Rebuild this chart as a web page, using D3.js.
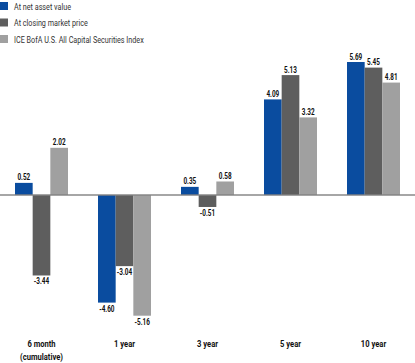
<!DOCTYPE html>
<html>
<head>
<meta charset="utf-8">
<script src="https://cdn.jsdelivr.net/npm/d3@7"></script>
<style>
  body { margin: 0; background: #fff; }
  svg { display: block; font-family: Roboto, "Liberation Sans", sans-serif; }
</style>
</head>
<body>
<svg id="chart" width="415" height="363"></svg>
<script>
const categories = ['6 month\n(cumulative)', '1 year', '3 year', '5 year', '10 year'];
const seriesNames = ['At net asset value', 'At closing market price', 'ICE BofA U.S. All Capital Securities Index'];
const nav = [0.52, -4.60, 0.35, 4.09, 5.69];
const market = [-3.44, -3.04, -0.51, 5.13, 5.45];
const index = [2.02, -5.16, 0.58, 3.32, 4.81];
const colors = ['#0a4c9f', '#5e5e5e', '#a0a0a0'];

const width = 415;
const svg = d3.select('#chart');

// Echelles
const x0 = d3.scaleBand().domain(categories).range([0, width]);
const groupW = 53;
const x1 = d3.scaleBand().domain(seriesNames).range([0, groupW]);
const y = d3.scaleLinear().domain([-5.16, 5.69]).range([315.7, 62]);

const series = [nav, market, index];
const data = [];
categories.forEach((c, i) => {
  seriesNames.forEach((s, j) => {
    data.push({ cat: c, name: s, value: series[j][i], color: colors[j] });
  });
});

const bx = d => x0(d.cat) + (x0.bandwidth() - groupW) / 2 + x1(d.name);

// texte "condensé" : on écrase horizontalement
const narrow = 0.8;

// Barres
svg.append('g').selectAll('rect')
  .data(data)
  .enter()
  .append('rect')
  .attr('x', d => bx(d))
  .attr('y', d => y(Math.max(0, d.value)))
  .attr('width', x1.bandwidth())
  .attr('height', d => Math.abs(y(d.value) - y(0)))
  .attr('fill', d => d.color);

// Ligne zero
svg.append('line')
  .attr('x1', 0).attr('x2', width)
  .attr('y1', y(0)).attr('y2', y(0))
  .attr('stroke', '#808080')
  .attr('stroke-opacity', 0.7)
  .attr('stroke-width', 2);

// Valeurs
svg.append('g').selectAll('text')
  .data(data)
  .enter()
  .append('text')
  .attr('transform', d => `translate(${bx(d) + x1.bandwidth() / 2},${d.value >= 0 ? y(d.value) - 2.5 : y(d.value) + 9}) scale(${narrow - 0.05},1)`)
  .attr('text-anchor', 'middle')
  .attr('font-size', 8.5)
  .attr('font-weight', 'bold')
  .attr('fill', '#111')
  .text(d => d.value.toFixed(2));

// Categories
const catG = svg.append('g');
categories.forEach(c => {
  const cx = x0(c) + x0.bandwidth() / 2;
  c.split('\n').forEach((line, k) => {
    catG.append('text')
      .attr('transform', `translate(${cx},${347 + k * 12.5}) scale(${narrow},1)`)
      .attr('text-anchor', 'middle')
      .attr('font-size', 9.5)
      .attr('font-weight', 'bold')
      .attr('fill', '#111')
      .text(line);
  });
});

// Legende
const legend = svg.append('g');
seriesNames.forEach((s, j) => {
  legend.append('rect')
    .attr('x', 0).attr('y', 2 + j * 16.5)
    .attr('width', 8).attr('height', 8)
    .attr('fill', colors[j]);
  legend.append('text')
    .attr('transform', `translate(14,${9.5 + j * 16.5}) scale(0.76,1)`)
    .attr('font-size', 9.5)
    .attr('fill', '#333')
    .text(s);
});
</script>
</body>
</html>
